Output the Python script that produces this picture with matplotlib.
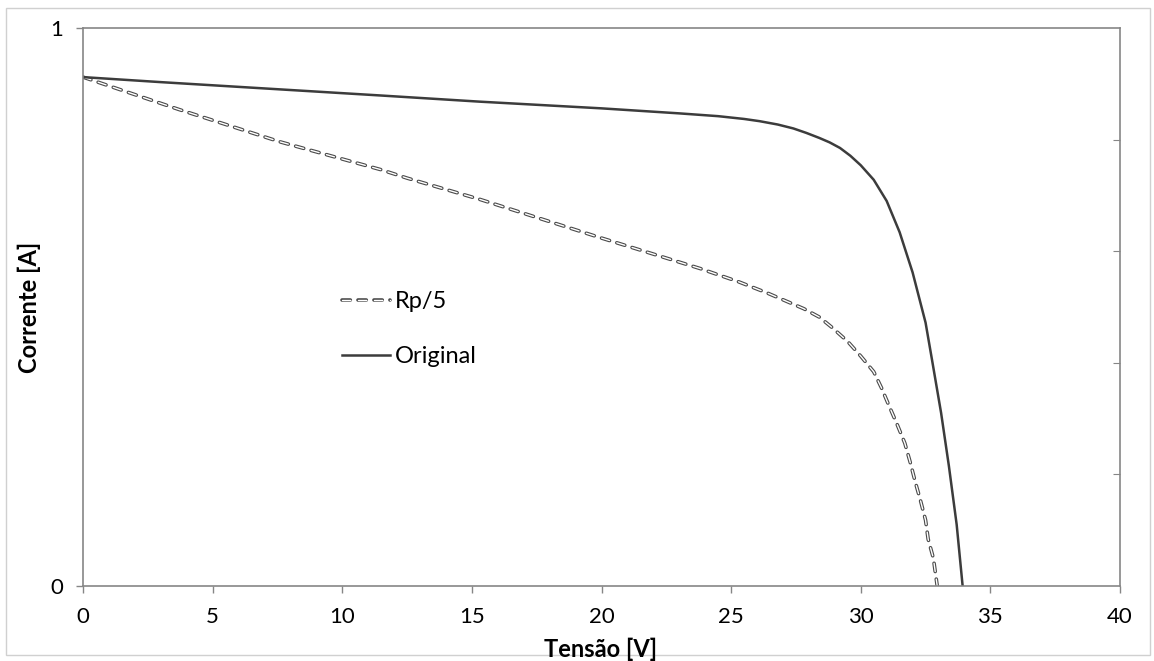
import numpy as np
import matplotlib
matplotlib.use('Agg')
import matplotlib.pyplot as plt
import matplotlib.patheffects as pe
from matplotlib.patches import Rectangle

plt.rcParams['font.family'] = ['Lato', 'DejaVu Sans']
plt.rcParams['lines.scale_dashes'] = False

# Curva original (tensão [V], corrente [A])
v_orig = [0.0, 3.0, 7.6, 11.5, 15.3, 20.0, 23.0, 24.5, 25.5, 26.1, 26.8, 27.4,
          27.9, 28.4, 28.8, 29.2, 29.6, 30.0, 30.5, 31.0, 31.5, 32.0, 32.5,
          32.75, 33.1, 33.4, 33.7, 33.93]
i_orig = [0.912, 0.903, 0.890, 0.879, 0.868, 0.856, 0.847, 0.842, 0.837, 0.833,
          0.827, 0.820, 0.812, 0.803, 0.795, 0.785, 0.771, 0.754, 0.728, 0.690,
          0.634, 0.562, 0.472, 0.405, 0.310, 0.215, 0.110, 0.0]

# Curva com Rp/5
v_rp5 = [0.0, 3.7, 7.6, 11.5, 12.5, 15.3, 19.9, 23.8, 25.3, 26.4, 27.1, 27.8,
         28.4, 28.9, 29.5, 30.0, 30.5, 30.8, 31.1, 31.4, 31.7, 31.9, 32.1, 32.3,
         32.5, 32.6, 32.8, 32.95]
i_rp5 = [0.912, 0.854, 0.796, 0.746, 0.731, 0.693, 0.625, 0.569, 0.545, 0.525,
         0.511, 0.497, 0.482, 0.463, 0.438, 0.412, 0.384, 0.355, 0.322, 0.290,
         0.256, 0.223, 0.187, 0.154, 0.118, 0.084, 0.050, 0.0]

W, H = 1154, 661
fig = plt.figure(figsize=(W / 100, H / 100), dpi=100)
ax = fig.add_axes([83 / W, 1 - 586 / H, (1120 - 83) / W, (586 - 28) / H])

cinza = '#868686'

# Rp/5: tracejado "oco" (contorno escuro, interior branco)
ax.plot(v_rp5, i_rp5, color='white', lw=1.0, dashes=(6, 5.5),
        dash_capstyle='round', label='Rp/5',
        path_effects=[pe.Stroke(linewidth=2.6, foreground='#4a4a4a'), pe.Normal()])
ax.plot(v_orig, i_orig, color='#3c3c3c', lw=1.8, label='Original')

ax.set_xlim(0, 40)
ax.set_ylim(0, 1)
ax.set_xticks(np.arange(0, 41, 5))
ax.set_yticks([0, 1])
ax.tick_params(axis='both', direction='out', length=5, color=cinza, width=1,
               labelsize=16)
ax.tick_params(axis='x', pad=10)
ax.tick_params(axis='y', pad=9)
for s in ax.spines.values():
    s.set_color(cinza)
    s.set_linewidth(1.2)

# eixo secundário à direita, só com traços internos
ax2 = ax.twinx()
ax2.set_ylim(0, 1)
ax2.set_yticks([0.2, 0.4, 0.6, 0.8])
ax2.tick_params(axis='y', direction='in', length=5, color=cinza, labelright=False)
for s in ax2.spines.values():
    s.set_visible(False)

fig.text(601 / W, 1 - 649 / H, 'Tensão [V]', ha='center', va='center',
         fontsize=17, fontweight='bold')
fig.text(29 / W, 1 - 307 / H, 'Corrente [A]', ha='center', va='center',
         rotation=90, fontsize=17, fontweight='bold')

ax.legend(loc='upper left', bbox_to_anchor=(342 / W, 1 - 291 / H),
          bbox_transform=fig.transFigure, frameon=False, fontsize=17,
          handlelength=2.03, handletextpad=0.21, labelspacing=1.43,
          borderpad=0, borderaxespad=0)

fig.patches.append(Rectangle((6 / W, 1 - 655 / H), 1144 / W, 647 / H,
                             transform=fig.transFigure, fill=False,
                             edgecolor='#d0d0d0', lw=1))

fig.savefig('out.png', dpi=100)
